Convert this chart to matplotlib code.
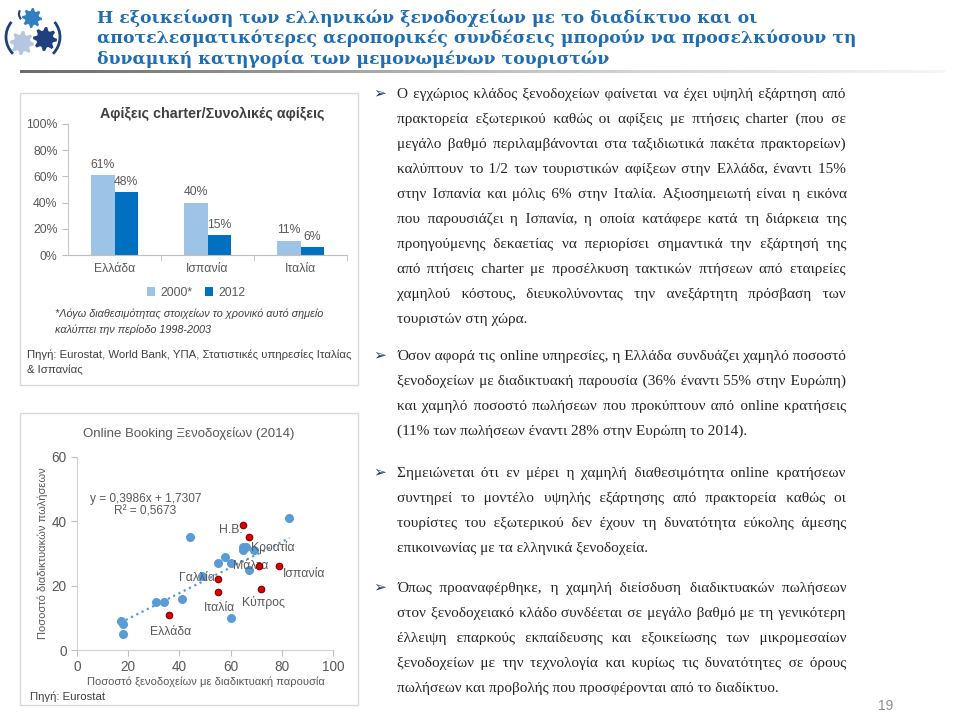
import matplotlib
matplotlib.use('Agg')
import matplotlib.pyplot as plt
from matplotlib.patches import Rectangle, Polygon, Arc
import numpy as np

W, H = 960, 713


def fx(x):
    return x / W


def fy(y):
    return 1 - y / H


# ---- data -------------------------------------------------------------
countries = ['Ελλάδα', 'Ισπανία', 'Ιταλία']
share_2000 = [61, 40, 11]
share_2012 = [48, 15, 6]
series_names = ['2000*', '2012']

# online booking scatter (Eurostat 2014)
other_x = [17, 18, 18, 31, 34, 41, 44, 49, 55, 58, 60, 60, 65, 65, 66, 67, 69, 83]
other_y = [9, 8, 5, 15, 15, 16, 35, 23, 27, 29, 27, 10, 31, 32, 32, 25, 31, 41]
named = ['Ελλάδα', 'Γαλλία', 'Ιταλία', 'Η.Β.', '', 'Μάλτα', 'Ισπανία', 'Κύπρος']
named_x = [36, 55, 55, 65, 67, 71, 79, 72]
named_y = [11, 22, 18, 39, 35, 26, 26, 19]
label_xy = [(36.5, 5.5), (47, 22.3), (55.7, 13.2), (60, 37.2), None,
            (68, 26), (88.8, 23.5), (72.8, 14.7)]
croatia_label = (76.5, 32)
slope, intercept, r2 = 0.3986, 1.7307, 0.5673

title_lines = [
    'Η εξοικείωση των ελληνικών ξενοδοχείων με το διαδίκτυο και οι',
    'αποτελεσματικότερες αεροπορικές συνδέσεις μπορούν να προσελκύσουν τη',
    'δυναμική κατηγορία των μεμονωμένων τουριστών',
]

paragraphs = [
    ['Ο εγχώριος κλάδος ξενοδοχείων φαίνεται να έχει υψηλή εξάρτηση από',
     'πρακτορεία εξωτερικού καθώς οι αφίξεις με πτήσεις charter (που σε',
     'μεγάλο βαθμό περιλαμβάνονται στα ταξιδιωτικά πακέτα πρακτορείων)',
     'καλύπτουν το 1/2 των τουριστικών αφίξεων στην Ελλάδα, έναντι 15%',
     'στην Ισπανία και μόλις 6% στην Ιταλία. Αξιοσημειωτή είναι η εικόνα',
     'που παρουσιάζει η Ισπανία, η οποία κατάφερε κατά τη διάρκεια της',
     'προηγούμενης δεκαετίας να περιορίσει σημαντικά την εξάρτησή της',
     'από πτήσεις charter με προσέλκυση τακτικών πτήσεων από εταιρείες',
     'χαμηλού κόστους, διευκολύνοντας την ανεξάρτητη πρόσβαση των',
     'τουριστών στη χώρα.'],
    ['Όσον αφορά τις online υπηρεσίες, η Ελλάδα συνδυάζει χαμηλό ποσοστό',
     'ξενοδοχείων με διαδικτυακή παρουσία (36% έναντι 55% στην Ευρώπη)',
     'και χαμηλό ποσοστό πωλήσεων που προκύπτουν από online κρατήσεις',
     '(11% των πωλήσεων έναντι 28% στην Ευρώπη το 2014).'],
    ['Σημειώνεται ότι εν μέρει η χαμηλή διαθεσιμότητα online κρατήσεων',
     'συντηρεί το μοντέλο υψηλής εξάρτησης από πρακτορεία καθώς οι',
     'τουρίστες του εξωτερικού δεν έχουν τη δυνατότητα εύκολης άμεσης',
     'επικοινωνίας με τα ελληνικά ξενοδοχεία.'],
    ['Όπως προαναφέρθηκε, η χαμηλή διείσδυση διαδικτυακών πωλήσεων',
     'στον ξενοδοχειακό κλάδο συνδέεται σε μεγάλο βαθμό με τη γενικότερη',
     'έλλειψη επαρκούς εκπαίδευσης και εξοικείωσης των μικρομεσαίων',
     'ξενοδοχείων με την τεχνολογία και κυρίως τις δυνατότητες σε όρους',
     'πωλήσεων και προβολής που προσφέρονται από το διαδίκτυο.'],
]
para_top = [93, 355, 472, 587]

plt.rcParams['font.family'] = ['Liberation Sans', 'DejaVu Sans']
GREY = '#595959'
FS = 8.2

fig = plt.figure(figsize=(9.6, 7.13), dpi=100)
fig.patch.set_facecolor('white')

# ---- logo (pixel coordinates) -----------------------------------------
axl = fig.add_axes([0, fy(66), fx(72), 66 / H])
axl.set_xlim(0, 72)
axl.set_ylim(66, 0)
axl.axis('off')


def gear(cx, cy, r, color, teeth=8):
    ang = np.linspace(0, 2 * np.pi, teeth * 4, endpoint=False)
    rad = np.where((np.arange(len(ang)) // 2) % 2 == 0, r, r * 0.72)
    pts = np.c_[cx + rad * np.cos(ang), cy + rad * np.sin(ang)]
    axl.add_patch(Polygon(pts, closed=True, facecolor=color, edgecolor='none'))


gear(32, 18, 10, '#2f7fc1')
gear(22, 43, 12, '#b4c6e0')
gear(45, 39, 12, '#1f3f7f')
axl.add_patch(Arc((33, 37), 54, 50, theta1=140, theta2=215, color='#1f3f7f', lw=2))
axl.add_patch(Arc((33, 37), 54, 50, theta1=-35, theta2=40, color='#1f3f7f', lw=2))
axl.add_patch(Arc((30, 14), 22, 18, theta1=150, theta2=200, color='#1f3f7f', lw=1.5))

# title
for i, line in enumerate(title_lines):
    fig.text(fx(97), fy(18 + i * 20.5), line, fontsize=12.4, fontweight='bold',
             family='DejaVu Serif', color='#1f6db3', va='center')

# gradient underline
ax_line = fig.add_axes([fx(20), fy(73), fx(945) - fx(20), 3 / H])
ax_line.imshow(np.linspace(0, 1, 256)[None, :], aspect='auto', cmap='Greys_r',
               vmin=-0.6, vmax=1.15)
ax_line.axis('off')

# boxes
for top, bot in [(93, 385), (413, 705)]:
    fig.patches.append(Rectangle((fx(20), fy(bot)), fx(358) - fx(20), (bot - top) / H,
                                 transform=fig.transFigure, facecolor='none',
                                 edgecolor='#d9d9d9', lw=1))

# ---- bar chart --------------------------------------------------------
ax = fig.add_axes([fx(68), fy(255), fx(347) - fx(68), 131 / H])
xs = np.arange(len(countries))
bw = 0.25
b1 = ax.bar(xs - bw / 2, share_2000, bw, color='#9dc3e6', label=series_names[0])
b2 = ax.bar(xs + bw / 2, share_2012, bw, color='#0070c0', label=series_names[1])
for bars, vals in [(b1, share_2000), (b2, share_2012)]:
    for rect, v in zip(bars, vals):
        ax.annotate(f'{v}%', (rect.get_x() + rect.get_width() / 2, v), xytext=(0, 3),
                    textcoords='offset points', ha='center', va='bottom',
                    fontsize=8.8, color=GREY)
ax.set_xlim(-0.5, 2.5)
ax.set_ylim(0, 100)
ax.set_yticks(range(0, 101, 20))
ax.set_yticklabels([f'{v}%' for v in range(0, 101, 20)])
ax.set_xticks(xs)
ax.set_xticklabels(countries)
ax.set_xticks([0.5, 1.5, 2.5], minor=True)
ax.tick_params(axis='x', which='major', length=0, pad=6, labelsize=8.8, labelcolor=GREY)
ax.tick_params(axis='x', which='minor', length=4, color='#bfbfbf')
ax.tick_params(axis='y', length=4, color='#bfbfbf', labelsize=8.8, labelcolor=GREY)
for s in ['top', 'right']:
    ax.spines[s].set_visible(False)
ax.spines['left'].set_color('#c8c8c8')
ax.spines['bottom'].set_color('#bfbfbf')
ax.set_facecolor('none')
fig.text(fx(212), fy(114), 'Αφίξεις charter/Συνολικές αφίξεις', fontsize=10.3,
         fontweight='bold', color='#404040', ha='center', va='center')
fig.legend(handles=[b1, b2], loc='center', bbox_to_anchor=(fx(196), fy(293)), ncol=2,
           frameon=False, fontsize=8.8, labelcolor=GREY, handlelength=0.7,
           handleheight=0.7, columnspacing=1.0, handletextpad=0.4)
fig.text(fx(55), fy(314), '*Λόγω διαθεσιμότητας στοιχείων το χρονικό αυτό σημείο',
         fontsize=7.8, style='italic', color='#404040', va='center')
fig.text(fx(55), fy(330), 'καλύπτει την περίοδο 1998-2003',
         fontsize=7.8, style='italic', color='#404040', va='center')
fig.text(fx(27), fy(355), 'Πηγή: Eurostat, World Bank, ΥΠΑ, Στατιστικές υπηρεσίες Ιταλίας',
         fontsize=FS, color='#404040', va='center')
fig.text(fx(27), fy(370), '& Ισπανίας', fontsize=FS, color='#404040', va='center')

# ---- scatter ----------------------------------------------------------
ax2 = fig.add_axes([fx(77), fy(650), fx(333) - fx(77), 193 / H])
ax2.scatter(other_x, other_y, s=30, color='#5b9bd5', zorder=3)
ax2.scatter(named_x, named_y, s=22, color='#e00000', edgecolor='#7a0000', lw=0.8, zorder=4)
tx = np.array([min(other_x + named_x), max(other_x + named_x)])
ax2.plot(tx, slope * tx + intercept, ':', color='#5b9bd5', lw=1.6, zorder=2)
for name, pos in zip(named, label_xy):
    if pos:
        ax2.text(pos[0], pos[1], name, fontsize=8.8, color=GREY, ha='center', va='center')
ax2.text(croatia_label[0], croatia_label[1], 'Κροατία', fontsize=8.8, color=GREY,
         ha='center', va='center')
ax2.text(26.8, 45, f'y = {slope:.4f}x + {intercept:.4f}'.replace('.', ',') + '\n'
         + f'R² = {r2:.4f}'.replace('.', ','), fontsize=8.6, color=GREY,
         ha='center', va='center', linespacing=1.1)
ax2.set_xlim(0, 100)
ax2.set_ylim(0, 60)
ax2.set_xticks(range(0, 101, 20))
ax2.set_yticks(range(0, 61, 20))
ax2.tick_params(length=4, color='#bfbfbf', labelsize=9.8, labelcolor=GREY)
for s in ['top', 'right']:
    ax2.spines[s].set_visible(False)
ax2.spines['left'].set_color('#d0d0d0')
ax2.spines['bottom'].set_color('#d0d0d0')
ax2.set_facecolor('none')
fig.text(fx(189), fy(433), 'Online Booking Ξενοδοχείων (2014)', fontsize=9.5,
         color=GREY, ha='center', va='center')
fig.text(fx(43), fy(553), 'Ποσοστό διαδικτυακών πωλήσεων', fontsize=8, color=GREY,
         rotation=90, ha='center', va='center')
fig.text(fx(206), fy(682), 'Ποσοστό ξενοδοχείων με διαδικτυακή παρουσία', fontsize=8,
         color=GREY, ha='center', va='center')
fig.text(fx(30), fy(697), 'Πηγή: Eurostat', fontsize=FS, color='#404040', va='center')

# ---- right-hand justified text: one text per line, padded with fine spaces --
renderer = fig.canvas.get_renderer()
x0, x1 = 397, 846
step = 25
TEXT_C = '#262626'
SERIF = ['Liberation Serif', 'DejaVu Serif']


def measure(s):
    t = fig.text(0, 0, s, fontsize=11, family=SERIF)
    w = t.get_window_extent(renderer).width
    t.remove()
    return w


pad_char, pad_w = '\u200a', 0.0
for ch in ['\u200a', '\u2009', '\u2006']:
    pw = measure('a' + ch + 'a') - measure('aa')
    if pw > 0.3:
        pad_char, pad_w = ch, pw
        break

for top, lines in zip(para_top, paragraphs):
    fig.text(fx(380), fy(top), '➢', fontsize=11, color='#1f3864', ha='center', va='center',
             family='DejaVu Sans')
    for i, line in enumerate(lines):
        y = fy(top + i * step + 5)
        text = line
        if i < len(lines) - 1 and pad_w > 0:
            words = line.split(' ')
            extra = (x1 - x0) - measure(line)
            total = max(0, int(round(extra / pad_w)))
            n = len(words) - 1
            parts, acc = [words[0]], 0.0
            for k in range(n):
                target = total * (k + 1) / n
                cnt = int(round(target - acc))
                acc += cnt
                parts.append(' ' + pad_char * cnt + words[k + 1])
            text = ''.join(parts)
        fig.text(fx(x0), y, text, fontsize=11, family=SERIF, color=TEXT_C, va='baseline')

fig.text(fx(886), fy(706), '19', fontsize=10, color='#8c8c8c', ha='center', va='center')

fig.savefig('out.png', dpi=100)
